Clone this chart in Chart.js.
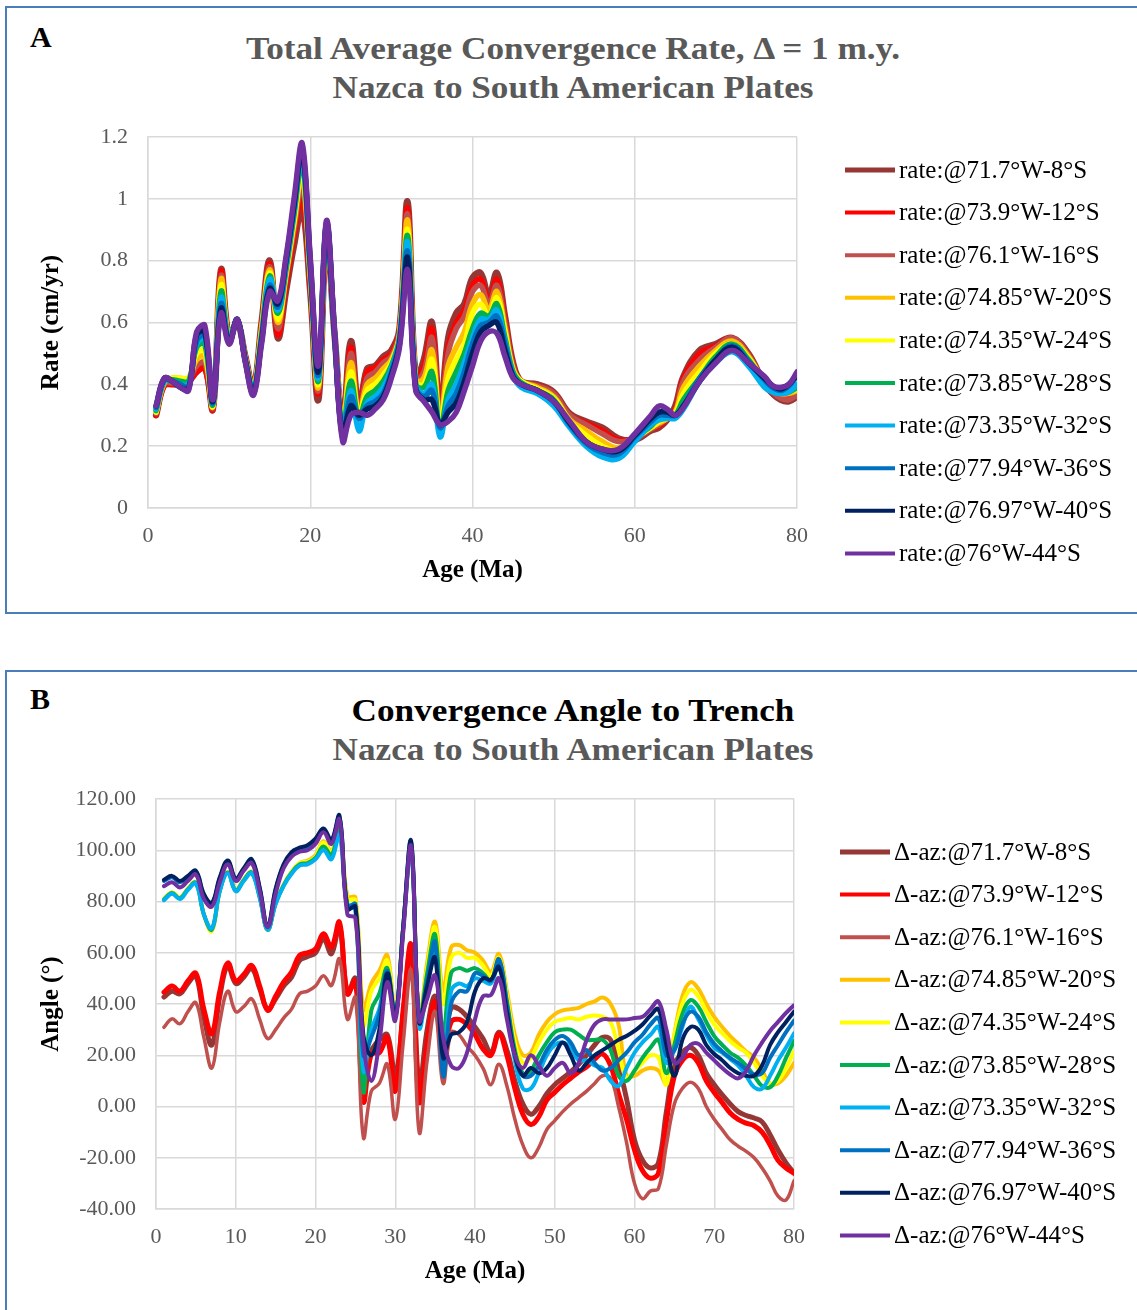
<!DOCTYPE html>
<html>
<head>
<meta charset="utf-8">
<script src="https://cdn.jsdelivr.net/npm/chart.js@4.4.1/dist/chart.umd.min.js"></script>
<style>
  body { margin: 0; background: #fff; width: 1137px; height: 1310px; overflow: hidden; position: relative; }
  .frame { position: absolute; left: 5px; width: 1150px; border: 2px solid #4a7ebb; box-sizing: border-box; }
  .heading { position: absolute; left: 0; width: 1146px; text-align: center; font: bold 32px "Liberation Serif", serif; line-height: 39px; color: #595959; transform: scaleX(1.1); transform-origin: 573px 0; }
  .tag { position: absolute; left: 30px; font: bold 30px "Liberation Serif", serif; line-height: 30px; color: #000; }
  canvas { position: absolute; left: 7px; }
</style>
</head>
<body>
<div class="frame" style="top:6px;height:608px"></div>
<div class="tag" style="top:22px">A</div>
<div class="heading" style="top:29px">Total Average Convergence Rate, &Delta; = 1 m.y.<br>Nazca to South American Plates</div>
<canvas id="chart1" width="1130" height="602" style="top:9px"></canvas>

<div class="frame" style="top:670px;height:700px"></div>
<div class="tag" style="top:684px">B</div>
<div class="heading" style="top:691px"><span style="color:#000">Convergence Angle to Trench</span><br>Nazca to South American Plates</div>
<canvas id="chart2" width="1130" height="637" style="top:673px"></canvas>

<script>
// ---- panel A: total average convergence rate (cm/yr) vs age (Ma) ----
const AGE_A = [1,2,3,4,5,6,7,8,9,10, 11,12,13,14,15,16,17,18,19,20, 21,22,23,24,25,26,27,28,29,30,
  31,32,33,34,35,36,37,38,39,40, 41,42,43,44,45,46, 48,50,52,54,56,58,60, 62,63,64,65,66, 68,70,72,74,76,77,78,79,80];

const rate_8S = [.30,.40,.40,.40,.41,.44,.46,.32,.77,.55, .60,.49,.39,.60,.80,.55,.70,.85,.97,.70,
  .35,.88,.56,.28,.54,.32,.45,.46,.49,.51, .58,.99,.42,.48,.60,.31,.55,.63,.66,.745,
  .76,.685,.76,.62,.47,.41, .40,.375,.305,.28,.26,.225,.22, .25,.26,.285,.33,.425, .51,.53,.55,.50,.40,.37,.35,.345,.36];
const rate_12S = [.30,.395,.40,.41,.41,.44,.45,.32,.765,.55, .60,.49,.39,.59,.79,.56,.72,.88,1.01,.72,
  .37,.89,.56,.275,.52,.31,.44,.455,.48,.50, .575,.97,.42,.46,.58,.30,.52,.60,.64,.72,
  .74,.67,.74,.61,.465,.41, .395,.37,.30,.275,.25,.22,.225, .255,.265,.29,.32,.42, .50,.525,.55,.495,.405,.375,.36,.355,.37];
const rate_16S = [.305,.40,.405,.41,.415,.46,.47,.325,.75,.55, .605,.485,.39,.585,.78,.58,.74,.90,1.05,.74,
  .38,.90,.56,.27,.50,.31,.42,.44,.47,.49, .57,.95,.415,.44,.55,.29,.50,.58,.62,.70,
  .72,.66,.72,.60,.46,.41, .395,.37,.30,.27,.24,.215,.225, .255,.27,.29,.315,.41, .48,.52,.55,.495,.405,.375,.355,.35,.365];
const rate_20S = [.31,.405,.42,.42,.42,.48,.49,.33,.74,.545, .605,.485,.385,.58,.77,.60,.75,.92,1.08,.75,
  .39,.90,.56,.265,.47,.30,.40,.42,.45,.48, .56,.93,.41,.42,.51,.28,.46,.52,.57,.66,
  .69,.64,.70,.58,.45,.41, .39,.36,.285,.25,.215,.195,.225, .26,.275,.29,.31,.39, .46,.51,.54,.49,.405,.38,.37,.37,.38];
const rate_24S = [.31,.41,.42,.42,.42,.50,.51,.33,.72,.54, .61,.48,.385,.57,.76,.61,.76,.93,1.10,.76,
  .40,.91,.56,.26,.44,.30,.38,.40,.43,.47, .555,.90,.41,.40,.48,.27,.42,.48,.53,.63,
  .66,.62,.68,.57,.445,.41, .385,.355,.28,.235,.20,.185,.225, .26,.28,.29,.305,.37, .44,.50,.53,.485,.405,.38,.375,.375,.385];
const rate_28S = [.315,.41,.415,.41,.41,.52,.53,.335,.70,.54, .61,.48,.38,.56,.75,.63,.77,.95,1.12,.77,
  .41,.91,.56,.25,.41,.29,.36,.38,.41,.46, .55,.88,.40,.39,.44,.25,.38,.44,.50,.58,
  .63,.62,.66,.55,.44,.405, .38,.35,.27,.215,.185,.17,.225, .265,.29,.295,.30,.35, .42,.49,.53,.48,.405,.385,.375,.375,.39];
const rate_32S = [.32,.41,.41,.40,.40,.53,.55,.34,.68,.54, .61,.48,.38,.55,.74,.64,.78,.96,1.14,.78,
  .42,.92,.56,.24,.38,.25,.34,.36,.39,.45, .545,.86,.40,.37,.40,.23,.35,.40,.47,.55,
  .61,.61,.64,.54,.43,.39, .37,.33,.26,.20,.165,.16,.215, .27,.285,.29,.29,.32, .41,.47,.505,.46,.39,.375,.37,.375,.40];
const rate_36S = [.325,.415,.41,.40,.39,.54,.56,.34,.66,.535, .61,.475,.375,.545,.72,.65,.79,.97,1.15,.79,
  .43,.92,.56,.235,.36,.29,.33,.345,.37,.44, .54,.83,.39,.36,.38,.26,.33,.37,.44,.53,
  .59,.60,.62,.53,.43,.40, .38,.345,.27,.21,.18,.175,.23, .28,.30,.30,.30,.33, .42,.48,.525,.475,.415,.39,.38,.395,.43];
const rate_40S = [.33,.42,.41,.39,.385,.56,.57,.345,.645,.535, .61,.475,.37,.54,.71,.66,.80,.98,1.16,.80,
  .44,.92,.56,.23,.33,.30,.32,.33,.36,.43, .53,.81,.385,.35,.35,.27,.31,.34,.41,.50,
  .57,.59,.60,.51,.425,.40, .38,.345,.275,.215,.19,.185,.235, .29,.31,.31,.30,.33, .41,.48,.52,.47,.42,.395,.385,.40,.43];
const rate_44S = [.33,.42,.41,.39,.38,.57,.59,.35,.63,.53, .61,.47,.365,.53,.70,.67,.81,1.00,1.18,.81,
  .46,.93,.57,.215,.30,.31,.30,.32,.35,.42, .52,.77,.38,.345,.31,.27,.28,.31,.38,.46,
  .54,.57,.565,.49,.42,.40, .38,.345,.28,.215,.19,.19,.24, .30,.33,.32,.30,.325, .41,.47,.51,.47,.425,.395,.39,.40,.44];

const RATE_LABELS = ['rate:@71.7°W-8°S', 'rate:@73.9°W-12°S', 'rate:@76.1°W-16°S', 'rate:@74.85°W-20°S',
  'rate:@74.35°W-24°S', 'rate:@73.85°W-28°S', 'rate:@73.35°W-32°S', 'rate:@77.94°W-36°S',
  'rate:@76.97°W-40°S', 'rate:@76°W-44°S'];

// ---- panel B: convergence angle to trench (deg) vs age (Ma) ----
const AGE_B = [1,2,3,4,5,6,7,8,9,10, 11,12,13,14,15,16,17,18,19,20, 21,22,23,24,25,26,27,28,29,30,
  31,32,33,34,35,36,37,38,39,40, 41,42,43,44,45,46,47,48,49,50, 51,52,53,54,55,56,57,58,59,60,
  61,62,63,64,65,66,67,68,69,70, 71,72,73,74,75,76,77,78,79,80];

const az_8S = [42.7,45,44,48,51,35,24,43,55,48, 50.5,54,46,38,42,47,50.5,57,58.5,60,
  65.5,59.6,70.5,44,50,17,22,26,28,12, 36,62,8,30,43,25,38.5,38,35,31,
  26.5,21,29,22,10,1,-3,0,5,8.5, 11,13.5,16.5,20,24,27,26,16,3,-13,
  -21,-24,-22,-2,16,21,23,20,13,8.5, 4.5,1,-2,-3.5,-4.5,-6,-11,-17,-22,-26];
const az_12S = [44.6,47,45,49,52,38,28.4,45,56,49, 51.5,55,47,37.5,43,48.5,52.5,59,60,61.5,
  67.4,62.2,71.9,44,49,2,20.5,21,27,6, 38,63,2,25,41,20,33,34,32,28,
  22.5,20,28.4,20,7,-3,-7,-4,2.5,5.5, 8.5,11,13.5,15.5,18.5,20.5,16,5,-5,-17,
  -25,-28,-26,-6,12,18,20,17,10,5.5, 1.5,-2.5,-5,-6.5,-7.5,-10,-15,-21,-24,-26];
const az_16S = [30.9,34.2,32.3,37,40.5,27,15,33,45,37, 39,42,34,26.5,30,34.5,38,44,45,47,
  51,47.2,57.6,34,42.5,-12,6,9,16.5,-5, 25,53,-10,18,37,9,29,28,23.5,20,
  15,8.5,16.5,8,-5,-15,-20,-16,-9,-5.5, -2,1,3.5,6,9,12,11,0,-14,-30,
  -36,-33,-32,-15,1,7,9.5,7,0,-5, -9,-13,-15.5,-17.5,-20,-24,-29,-35,-36.5,-29];
const az_20S = [81,83.5,81.5,85,87.5,75,68.5,84.5,91.5,84.5, 88.5,91.5,82,69,79.5,86.5,91.5,95,96,98,
  103.5,99.5,109.5,82,81.5,38,48,53,59,36, 70,101,34,56,72,45,62,63,61,60,
  57,52.5,59.5,45,28,20,21,28,33,36, 37.5,38,38.5,40,41,42.5,40,32,12,12,
  14,15,14,9,28,43,48.5,46,40,35, 31,27.5,24.5,21.5,19,14,9,9,12,17];
const az_24S = [81,83.5,81.5,85,87.5,75,68.5,84.5,91.5,84.5, 88.5,91.5,82,69,79.5,86.5,91.5,95,95.5,97.5,
  103,99,109,81,80.5,32,45,50,57,36, 70,101,34,54,70,40,58,60,58,58,
  55,51,58,43,25,17,19,25,30,33, 34,34.5,34,35,35.5,35,33,22,11,14,
  17,20,19,8.5,28,40,45.5,43,37,32, 28.5,25.5,23,21,17,12,9,10,15,21.5];
const az_28S = [80.8,83.3,81.3,84.8,87.3,75,69,84.3,91.3,84.3, 88.3,91.3,81.8,69,79.3,86.3,91.2,94.5,95,97,
  101.5,98,108,79,78,6,37.5,44,54,35, 70,101,33.5,52,67,28,52,54,53,54,
  52,49,57,41,22,13,14,20,25,29, 30,30,28,26,26,26,22,12,10,14,
  19,23,26,13,24,36,41.5,39,33,27.5, 24,21,19,16,12,8,7.5,12,19,25.5];
const az_32S = [80.5,83,81,84.5,87,75,69.5,84,91,84, 88,91,81.5,69,79,86,90.8,94,94.5,96.5,
  100,96.5,106,78,77,14,30,38,52,35, 69,100,31,46,62,16,45,48,47,50,
  49,48,56,39,18,7,7,13,20,24, 25,23,18,18,16,15,10,8,15,21,
  25,28,31,17,22,31,39,34,28,23, 21,18.5,16,12,7.5,7,12,18,23,28.5];
const az_36S = [88,89.5,87.5,89.5,91.5,82.5,79,89,95.5,88.5, 92.5,96,85,70,84.5,94,98.8,100.5,101.5,104,
  108,103.5,113,78,79,20,27,36,53,35, 70,103,33,49,64,12,40,45,45,52,
  51,49,57.5,40,20,12,12,16,22,26, 27.5,25,20,22,17,14,15,18,21,25,
  28,32,34.5,20,22,32,37,35,29,24.5, 21.5,19,17,14.5,12.5,13,19,24,29,33.5];
const az_40S = [88.5,90,88,90,92,83,79.5,89.5,96,89, 93,96.5,85.5,70.5,85,94.5,99.3,101,102,104.5,
  108.5,104,113.5,77,78,28,20,30,52,35, 70,103.5,33,47,58,19,28,29,33,45,
  50,49.5,54.5,37,20,12,15,13,15,20, 25,20,14,17,20,22,24,26,27.5,29.5,
  32,35.5,38,24,12,26,31,30,24,20.5, 18,15,13,12,12,16,24,29,33,37];
const az_44S = [86,87.5,85.5,88,90.5,81,78,87.5,94.5,88, 92,95,84,70,83,93,97.5,99.5,100,102.5,
  107,102.5,112,75,73.5,25,10,25,48.5,33.5, 68,101.5,33.6,42,51,27,16,15,21,34,
  43,43.5,50,34,20,15,20,16,12,15, 17,13,17,26,32,34,34,34,34,34.5,
  35,38,41,30,17,19,24,24.5,21,18, 15,12.5,11,14,20,25,29.5,33,36.5,39.5];

const AZ_LABELS = ['Δ-az:@71.7°W-8°S', 'Δ-az:@73.9°W-12°S', 'Δ-az:@76.1°W-16°S', 'Δ-az:@74.85°W-20°S',
  'Δ-az:@74.35°W-24°S', 'Δ-az:@73.85°W-28°S', 'Δ-az:@73.35°W-32°S', 'Δ-az:@77.94°W-36°S',
  'Δ-az:@76.97°W-40°S', 'Δ-az:@76°W-44°S'];

const SERIES_COLORS = ['#953735', '#ff0000', '#c0504d', '#ffc000', '#ffff00',
  '#00b050', '#00b0f0', '#0070c0', '#002060', '#7030a0'];

const SERIF = '"Liberation Serif", "Times New Roman", serif';

// legend drawn at a fixed spot to the right of the plot
const sideLegend = {
  id: 'sideLegend',
  afterDraw(chart, args, opts) {
    const ctx = chart.ctx;
    ctx.save();
    ctx.font = opts.font;
    ctx.textBaseline = 'middle';
    ctx.fillStyle = '#000';
    ctx.lineCap = 'butt';
    chart.data.datasets.forEach((ds, i) => {
      const y = opts.top + i * opts.step;
      ctx.strokeStyle = ds.borderColor;
      ctx.lineWidth = opts.widths[i];
      ctx.beginPath();
      ctx.moveTo(opts.x, y);
      ctx.lineTo(opts.x + 50, y);
      ctx.stroke();
      ctx.fillText(ds.label, opts.x + 54, y + 1);
    });
    ctx.restore();
  }
};

function lineDatasets(ages, series, labels, widths) {
  return series.map((vals, i) => ({
    label: labels[i],
    data: ages.map((a, j) => ({ x: a, y: vals[j] })),
    borderColor: SERIES_COLORS[i],
    backgroundColor: SERIES_COLORS[i],
    borderWidth: widths[i],
    borderCapStyle: 'round',
    borderJoinStyle: 'round',
    tension: 0.4,
    pointRadius: 0,
    fill: false,
    order: series.length - i   // last series ends up on top
  }));
}

function makeChart(id, p) {
  const tickFont = { family: SERIF, size: 22 };
  const titleFont = { family: SERIF, size: 25, weight: 'bold' };
  return new Chart(document.getElementById(id), {
    type: 'line',
    data: { datasets: lineDatasets(p.ages, p.series, p.labels, p.widths) },
    options: {
      responsive: false,
      animation: false,
      devicePixelRatio: 1,
      layout: { padding: { top: p.top, right: p.right, bottom: 0, left: 0 } },
      plugins: {
        legend: { display: false },
        tooltip: { enabled: false },
        sideLegend: p.legend
      },
      scales: {
        x: {
          type: 'linear', min: 0, max: 80,
          ticks: { stepSize: p.xStep, color: '#595959', font: tickFont, padding: 15, maxRotation: 0 },
          grid: { color: '#d9d9d9', lineWidth: 1.5, drawTicks: false },
          border: { color: '#d9d9d9', width: 1.5 },
          title: { display: true, text: 'Age (Ma)', color: '#000', font: titleFont, padding: { top: 0, bottom: p.xTitlePad } },
          afterFit: s => { s.height = p.xHeight; }
        },
        y: {
          min: p.yMin, max: p.yMax,
          ticks: { stepSize: p.yStep, color: '#595959', font: tickFont, padding: 20, callback: p.yFormat },
          grid: { color: '#d9d9d9', lineWidth: 1.5, drawTicks: false },
          border: { color: '#d9d9d9', width: 1.5 },
          title: { display: true, text: p.yTitle, color: '#000', font: titleFont, padding: { top: 30, bottom: 0 } },
          afterFit: s => { s.width = p.yWidth; }
        }
      }
    },
    plugins: [sideLegend]
  });
}

makeChart('chart1', {
  ages: AGE_A,
  series: [rate_8S, rate_12S, rate_16S, rate_20S, rate_24S, rate_28S, rate_32S, rate_36S, rate_40S, rate_44S],
  labels: RATE_LABELS,
  widths: [6.5, 5.5, 5.5, 5.5, 5.5, 5.5, 5.5, 5.5, 5.5, 5.5],
  top: 128, right: 340, yWidth: 141, xHeight: 103, xTitlePad: 25,
  xStep: 20, yMin: 0, yMax: 1.2, yStep: 0.2,
  yFormat: v => String(Math.round(v * 10) / 10),
  yTitle: 'Rate (cm/yr)',
  legend: { x: 838, top: 161, step: 42.6, font: '25px ' + SERIF, widths: [5, 4, 4, 4, 4, 4, 4, 4, 4, 4] }
});

makeChart('chart2', {
  ages: AGE_B,
  series: [az_8S, az_12S, az_16S, az_20S, az_24S, az_28S, az_32S, az_36S, az_40S, az_44S],
  labels: AZ_LABELS,
  widths: [5, 5, 3.5, 4, 4, 4, 4, 4, 4, 4],
  top: 126, right: 343, yWidth: 149, xHeight: 101, xTitlePad: 23,
  xStep: 10, yMin: -40, yMax: 120, yStep: 20,
  yFormat: v => v.toFixed(2),
  yTitle: 'Angle (°)',
  legend: { x: 833, top: 179, step: 42.6, font: '25px ' + SERIF, widths: [5, 4, 4, 4, 4, 4, 4, 4, 4, 4] }
});
</script>
</body>
</html>
